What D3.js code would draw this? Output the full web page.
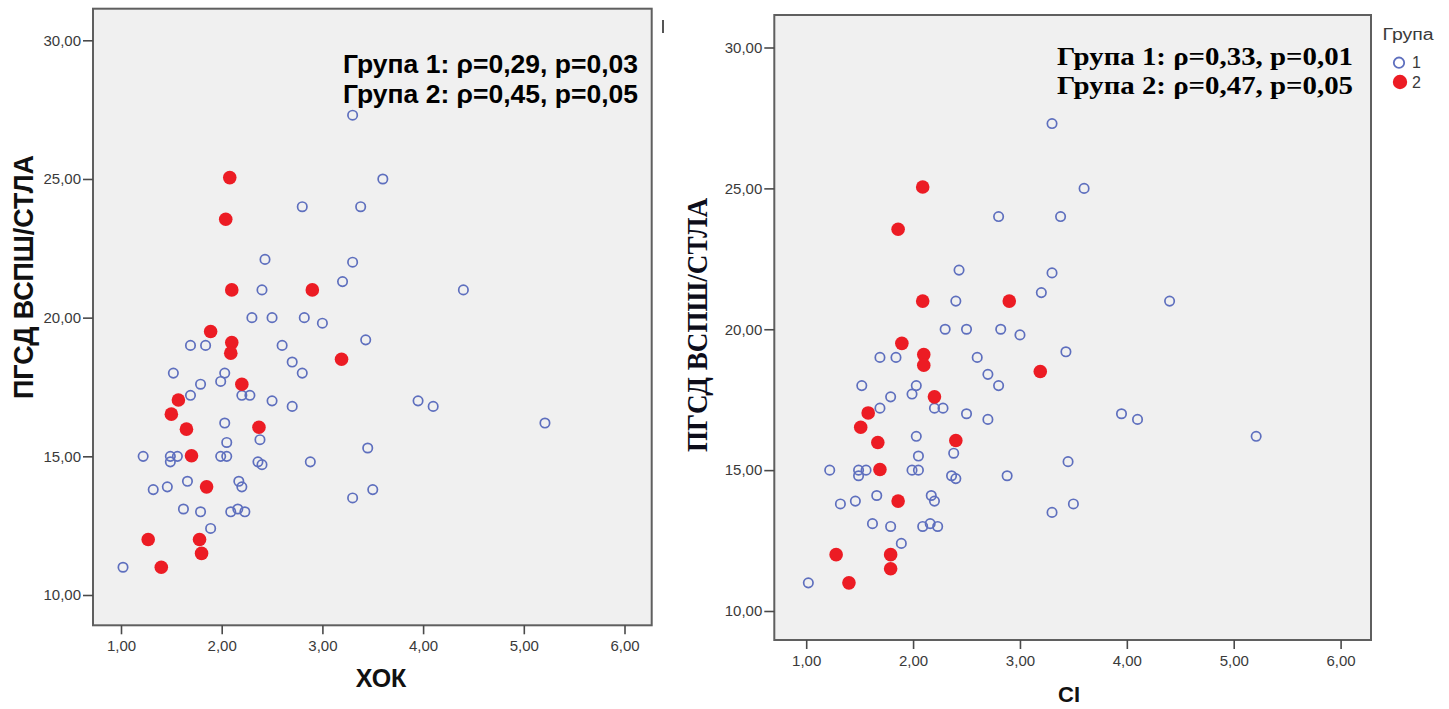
<!DOCTYPE html>
<html>
<head>
<meta charset="utf-8">
<script src="https://cdn.jsdelivr.net/npm/d3@7"></script>
<style>
  html, body { margin: 0; padding: 0; background: #ffffff; }
  svg { display: block; }
</style>
</head>
<body>
<svg id="chart" width="1449" height="709"></svg>
<script>
// Група 1 (open circles): shared by both panels
const group1X = [1.02, 1.22, 1.32, 1.46, 1.49, 1.49, 1.56, 1.52, 1.62, 1.66,
                 1.69, 1.69, 1.79, 1.79, 1.84, 1.89, 1.99, 1.99, 2.03, 2.03,
                 2.05, 2.05, 2.09, 2.16, 2.23, 2.17, 2.20, 2.20, 2.28, 2.30,
                 2.38, 2.36, 2.40, 2.40, 2.43, 2.50, 2.50, 2.60, 2.70, 2.70,
                 2.80, 2.80, 2.82, 2.88, 3.00, 3.20, 3.30, 3.30, 3.30, 3.38,
                 3.43, 3.45, 3.50, 3.60, 3.95, 4.10, 4.40, 5.21];
const group1Y = [11.0, 15.0, 13.8, 13.9, 15.0, 14.8, 15.0, 18.0, 13.1, 14.1,
                 19.0, 17.2, 17.6, 13.0, 19.0, 12.4, 17.7, 15.0, 18.0, 16.2,
                 15.0, 15.5, 13.0, 13.1, 13.0, 14.1, 13.9, 17.2, 17.2, 20.0,
                 15.6, 14.8, 14.7, 21.0, 22.1, 20.0, 17.0, 19.0, 18.4, 16.8,
                 24.0, 18.0, 20.0, 14.8, 19.8, 21.3, 22.0, 27.3, 13.5, 24.0,
                 19.2, 15.3, 13.8, 25.0, 17.0, 16.8, 21.0, 16.2];

// Група 2 (filled markers)
const group2Y    = [25.05, 23.55, 21.0, 21.0, 19.5, 19.1, 18.72, 18.5, 17.6, 17.03,
                    16.52, 15.98, 16.05, 15.02, 13.9, 12.0, 12.0, 11.5, 11.0];
const group2XHok = [2.08, 2.04, 2.10, 2.90, 1.89, 2.10, 2.09, 3.19, 2.20, 1.57,
                    1.50, 1.65, 2.37, 1.70, 1.85, 1.27, 1.78, 1.80, 1.40];
const group2XCi  = [2.09, 1.86, 2.09, 2.90, 1.895, 2.10, 2.10, 3.19, 2.20, 1.58,
                    1.51, 1.67, 2.40, 1.69, 1.86, 1.28, 1.79, 1.79, 1.40];

const xTicks = [1, 2, 3, 4, 5, 6];
const yTicks = [10, 15, 20, 25, 30];
const legendTitle = "Група";
const legendLabels = ["1", "2"];

const statsHok = ["Група 1: ρ=0,29, p=0,03", "Група 2: ρ=0,45, p=0,05"];
const statsCi  = ["Група 1: ρ=0,33, p=0,01", "Група 2: ρ=0,47, p=0,05"];

const yTitle = "ПГСД ВСПШ/СТЛА";

const BLUE = "#5e6fbe";
const RED = "#ec1c24";
const SANS = "'Liberation Sans', Arial, sans-serif";
const SERIF = "'Liberation Serif', 'Times New Roman', serif";
const fmt = d => d.toFixed(2).replace(".", ",");

const svg = d3.select("#chart");

function panel(cfg) {
  // anchor pixels for tick values 1→6 and 10→30; the frame extends past them
  const x = d3.scaleLinear().domain([1, 6]).range(cfg.xr);
  const y = d3.scaleLinear().domain([10, 30]).range(cfg.yr);
  const [fx0, fx1, fy0, fy1] = cfg.frame;

  const g = svg.append("g");

  g.append("rect")
    .attr("x", fx0).attr("y", fy0)
    .attr("width", fx1 - fx0).attr("height", fy1 - fy0)
    .attr("fill", "#f0f0f0")
    .attr("stroke", "#5f5f5f")
    .attr("stroke-width", 2);

  const yAxis = g.append("g")
    .attr("transform", `translate(${fx0},0)`)
    .call(d3.axisLeft(y).tickValues(yTicks).tickFormat(fmt).tickSize(10).tickPadding(2));
  const xAxis = g.append("g")
    .attr("transform", `translate(0,${fy1})`)
    .call(d3.axisBottom(x).tickValues(xTicks).tickFormat(fmt).tickSize(9).tickPadding(6));

  [yAxis, xAxis].forEach(a => {
    a.select(".domain").remove();
    a.selectAll(".tick line").attr("stroke", "#4a4a4a").attr("stroke-width", 1.6);
    a.selectAll(".tick text")
      .attr("fill", "#3a3a3a")
      .style("font-family", SANS)
      .style("font-size", "15px");
  });

  // Група 1
  g.append("g").selectAll("circle")
    .data(group1X.map((v, i) => [v, group1Y[i]]))
    .join("circle")
    .attr("cx", d => x(d[0]))
    .attr("cy", d => y(d[1]))
    .attr("r", 4.7)
    .attr("fill", "none")
    .attr("stroke", BLUE)
    .attr("stroke-width", 1.7);

  // Група 2
  g.append("g").selectAll("circle")
    .data(cfg.redX.map((v, i) => [v, group2Y[i]]))
    .join("circle")
    .attr("cx", d => x(d[0]))
    .attr("cy", d => y(d[1]))
    .attr("r", 6.8)
    .attr("fill", RED);

  // correlation annotation
  cfg.stats.forEach((s, i) => {
    const t = g.append("text")
      .attr("x", cfg.statsX)
      .attr("y", cfg.statsY[i])
      .attr("text-anchor", "end")
      .attr("fill", "#000")
      .style("font-family", cfg.statsFont)
      .style("font-weight", "bold")
      .style("font-size", cfg.statsSize + "px")
      .text(s);
    if (cfg.statsLen) {
      t.attr("textLength", cfg.statsLen).attr("lengthAdjust", "spacingAndGlyphs");
    }
  });

  // axis titles
  g.append("text")
    .attr("transform", `translate(${cfg.yTitlePos[0]},${cfg.yTitlePos[1]}) rotate(-90)`)
    .attr("text-anchor", "middle")
    .attr("fill", cfg.yTitleColor)
    .style("font-family", cfg.yTitleFont)
    .style("font-weight", "bold")
    .style("font-size", cfg.yTitleSize + "px")
    .attr("textLength", cfg.yTitleLen)
    .attr("lengthAdjust", "spacingAndGlyphs")
    .text(yTitle);

  g.append("text")
    .attr("x", cfg.xTitlePos[0])
    .attr("y", cfg.xTitlePos[1])
    .attr("text-anchor", "middle")
    .attr("fill", "#111")
    .style("font-family", SANS)
    .style("font-weight", "bold")
    .style("font-size", cfg.xTitleSize + "px")
    .text(cfg.xTitle);

  return { x, y, g };
}

panel({
  xr: [121, 624.5], yr: [595, 40.3],
  frame: [93, 651.7, 8.7, 625.3],
  redX: group2XHok,
  stats: statsHok, statsX: 638, statsY: [72.7, 102.7],
  statsFont: SANS, statsSize: 26.5,
  yTitlePos: [33, 277], yTitleFont: SANS,
  yTitleSize: 28, yTitleLen: 244, yTitleColor: "#111",
  xTitle: "ХОК", xTitlePos: [381, 687], xTitleSize: 25
});

panel({
  xr: [806.2, 1340.6], yr: [611, 47.5],
  frame: [774.3, 1371, 15, 640],
  redX: group2XCi,
  stats: statsCi, statsX: 1353, statsY: [65, 94],
  statsFont: SERIF, statsSize: 25, statsLen: 296,
  yTitlePos: [707, 325], yTitleFont: SERIF,
  yTitleSize: 30, yTitleLen: 254, yTitleColor: "#0d0d1a",
  xTitle: "CI", xTitlePos: [1069, 702], xTitleSize: 22
});

// small stroke remnant beside the left frame
svg.append("line")
  .attr("x1", 663).attr("x2", 663).attr("y1", 20).attr("y2", 33)
  .attr("stroke", "#555").attr("stroke-width", 2);

// legend
const lg = svg.append("g");
lg.append("text")
  .attr("x", 1382.5).attr("y", 40)
  .attr("fill", "#3a3a3a")
  .style("font-family", SANS)
  .style("font-size", "16px")
  .attr("textLength", 51)
  .attr("lengthAdjust", "spacingAndGlyphs")
  .text(legendTitle);
lg.append("circle")
  .attr("cx", 1399).attr("cy", 62.7).attr("r", 5.2)
  .attr("fill", "none").attr("stroke", BLUE).attr("stroke-width", 1.8);
lg.append("circle")
  .attr("cx", 1400).attr("cy", 82).attr("r", 7.2)
  .attr("fill", RED);
legendLabels.forEach((t, i) => {
  lg.append("text")
    .attr("x", 1412).attr("y", 68.3 + i * 20)
    .attr("fill", "#3a3a3a")
    .style("font-family", SANS)
    .style("font-size", "16px")
    .text(t);
});
</script>
</body>
</html>
